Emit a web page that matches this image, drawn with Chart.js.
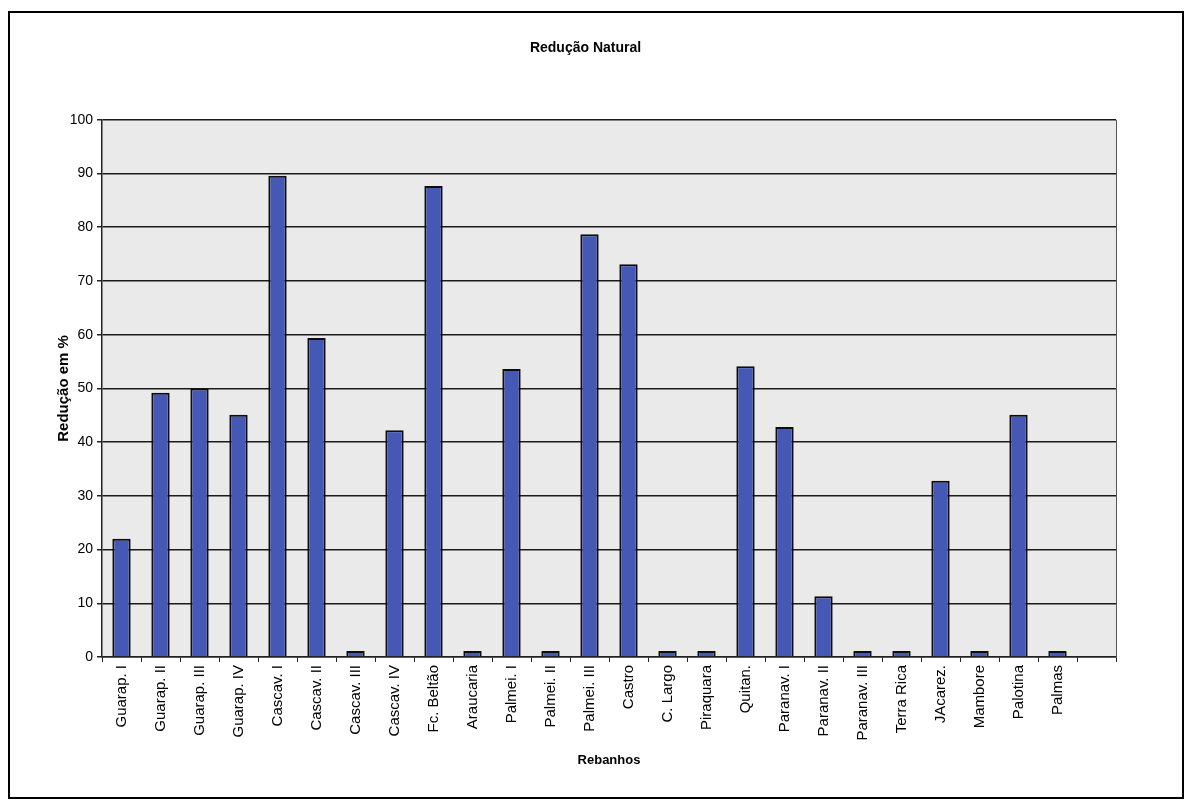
<!DOCTYPE html>
<html lang="pt">
<head>
<meta charset="utf-8">
<title>Redução Natural</title>
<script src="https://cdn.jsdelivr.net/npm/chart.js@4/dist/chart.umd.min.js"></script>
<style>
  html, body { margin: 0; padding: 0; background: #ffffff; }
  #wrap { position: relative; width: 1192px; height: 805px; }
</style>
</head>
<body>
<div id="wrap"><canvas id="c" width="1192" height="805"></canvas></div>
<script>
// Herds (rebanhos); the trailing empty slot keeps the spare category at the right end
const categories = [
  'Guarap. I', 'Guarap. II', 'Guarap. III', 'Guarap. IV',
  'Cascav. I', 'Cascav. II', 'Cascav. III', 'Cascav. IV',
  'Fc. Beltão', 'Araucaria', 'Palmei. I', 'Palmei. II', 'Palmei. III',
  'Castro', 'C. Largo', 'Piraquara', 'Quitan.',
  'Paranav. I', 'Paranav. II', 'Paranav. III', 'Terra Rica',
  'JAcarez.', 'Mambore', 'Palotina', 'Palmas', ''
];

// Natural reduction, in percent
const reducao = [
  22.0, 49.2, 50.0, 45.1,
  89.6, 59.4, 1.1, 42.2,
  87.7, 1.1, 53.6, 1.1, 78.7,
  73.1, 1.1, 1.1, 54.1,
  42.8, 11.3, 1.1, 1.1,
  32.8, 1.1, 45.1, 1.1, null
];

const yTicks = [0, 10, 20, 30, 40, 50, 60, 70, 80, 90, 100];

const FONT = '"Liberation Sans", Arial, Helvetica, sans-serif';

// Frame around the whole chart plus the grey plot area and its outline
const framePlugin = {
  id: 'frame',
  beforeDraw(chart) {
    const ctx = chart.ctx;
    const a = chart.chartArea;
    ctx.save();
    ctx.fillStyle = '#ffffff';
    ctx.fillRect(0, 0, chart.width, chart.height);
    ctx.strokeStyle = '#000000';
    ctx.lineWidth = 2;
    ctx.strokeRect(9, 12, 1174, 786);
    ctx.fillStyle = '#eaeaea';
    ctx.fillRect(a.left, a.top, a.right - a.left, a.bottom - a.top);
    ctx.restore();
  },
  afterDatasetsDraw(chart) {
    const ctx = chart.ctx;
    const a = chart.chartArea;
    ctx.save();
    ctx.strokeStyle = '#555555';
    ctx.lineWidth = 1;
    ctx.beginPath();
    ctx.moveTo(a.right + 0.5, a.top);
    ctx.lineTo(a.right + 0.5, a.bottom);
    ctx.stroke();
    ctx.restore();
  }
};

new Chart(document.getElementById('c'), {
  type: 'bar',
  data: {
    labels: categories,
    datasets: [{
      label: 'Redução Natural',
      data: reducao,
      backgroundColor: '#4558b6',
      borderColor: '#0d0d0d',
      borderWidth: 2,
      categoryPercentage: 1.0,
      barPercentage: 0.47
    }]
  },
  options: {
    responsive: false,
    animation: false,
    devicePixelRatio: 1,
    layout: { padding: { left: 55, right: 76, top: 0, bottom: 30 } },
    plugins: {
      legend: { display: false },
      tooltip: { enabled: false },
      title: {
        display: true,
        text: 'Redução Natural',
        color: '#000000',
        font: { family: FONT, size: 14, weight: 'bold', lineHeight: 1.2 },
        padding: { top: 40, bottom: 63 }
      }
    },
    scales: {
      x: {
        grid: {
          display: true,
          drawOnChartArea: false,
          drawTicks: true,
          tickLength: 5,
          tickColor: '#222222',
          offset: true
        },
        border: { display: true, color: '#222222', width: 1.5 },
        ticks: {
          color: '#000000',
          font: { family: FONT, size: 15 },
          minRotation: 90,
          maxRotation: 90,
          autoSkip: false,
          padding: 3
        },
        title: {
          display: true,
          text: 'Rebanhos',
          color: '#000000',
          font: { family: FONT, size: 13, weight: 'bold', lineHeight: 1.2 },
          padding: { top: 0, bottom: 7 }
        },
        afterFit(scale) { scale.height = 118; }
      },
      y: {
        min: 0,
        max: 100,
        afterBuildTicks(scale) { scale.ticks = yTicks.map(v => ({ value: v })); },
        grid: {
          display: true,
          color: '#1a1a1a',
          lineWidth: 1.5,
          drawTicks: true,
          tickLength: 5,
          tickColor: '#222222'
        },
        border: { display: true, color: '#222222', width: 1.5 },
        ticks: {
          color: '#000000',
          font: { family: FONT, size: 14 },
          padding: 4
        },
        title: {
          display: true,
          text: 'Redução em %',
          color: '#000000',
          font: { family: FONT, size: 15, weight: 'bold', lineHeight: 1.2 },
          padding: { top: 0, bottom: 0 }
        },
        afterFit(scale) { scale.width = 47; }
      }
    }
  },
  plugins: [framePlugin]
});
</script>
</body>
</html>
